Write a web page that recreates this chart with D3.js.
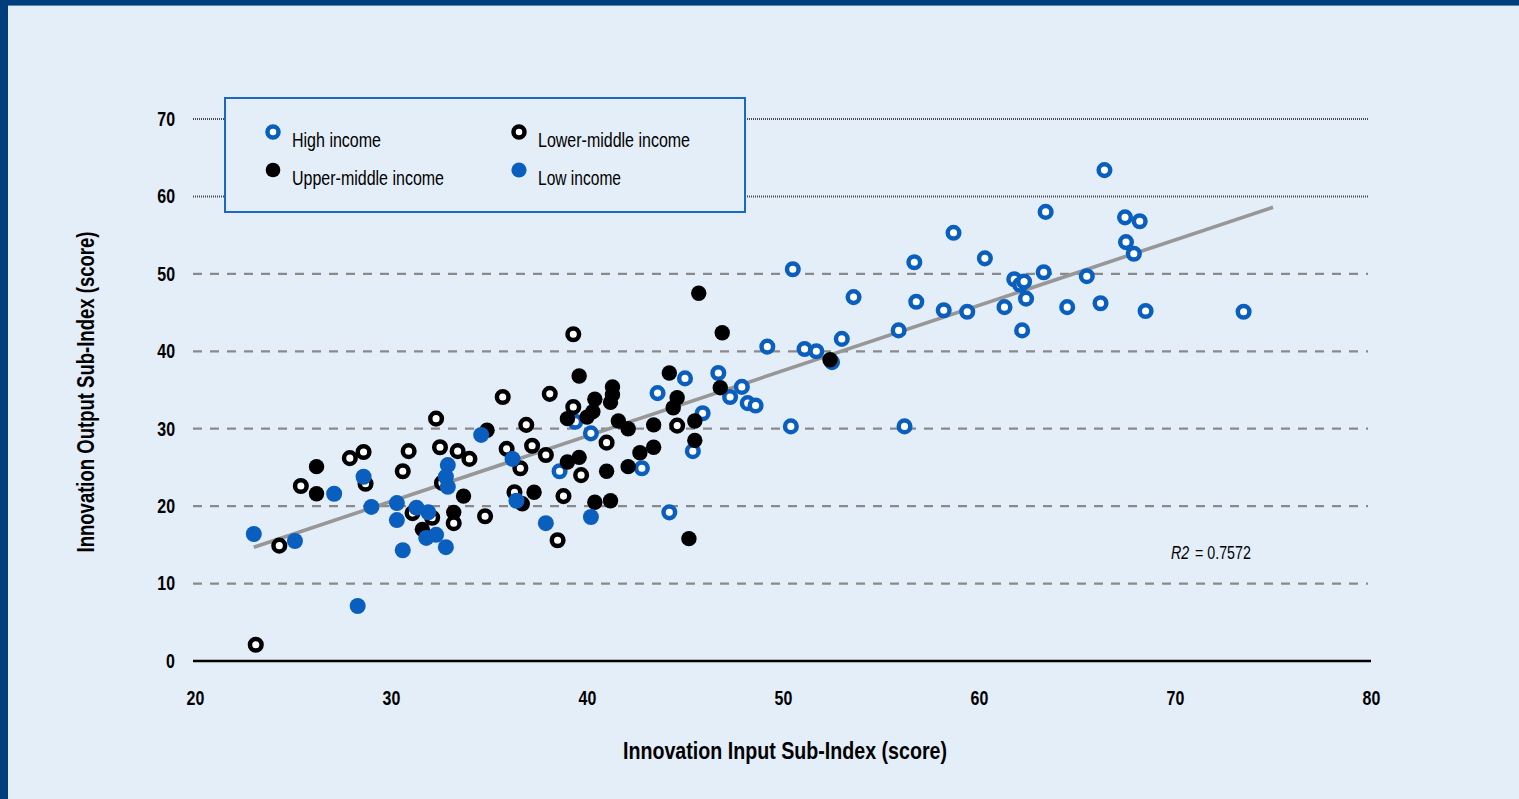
<!DOCTYPE html>
<html>
<head>
<meta charset="utf-8">
<script src="https://cdn.jsdelivr.net/npm/d3@7"></script>
<style>
  html, body { margin: 0; padding: 0; background: #e4eef8; }
  svg { display: block; }
  text { font-family: "Liberation Sans", Arial, sans-serif; }
</style>
</head>
<body>
<svg id="chart" width="1519" height="799"></svg>
<script>
// ---- Data ----
const highIncome = [
  [66.4,63.4],[63.4,58.0],[67.45,57.3],[68.2,56.8],[58.7,55.3],[67.5,54.1],[67.9,52.6],
  [56.7,51.5],[60.3,52.0],[50.5,50.6],[63.3,50.2],[65.5,49.7],[61.8,49.3],[62.1,48.6],
  [62.3,49.0],[62.4,46.8],[53.6,47.0],[56.8,46.4],[58.2,45.3],[59.4,45.1],[61.3,45.7],
  [64.5,45.7],[66.2,46.2],[68.5,45.2],[73.5,45.1],[62.2,42.7],[55.9,42.7],[53.0,41.6],
  [49.2,40.6],[51.1,40.3],[51.7,40.0],[52.5,38.6],[47.9,35.4],[47.3,34.1],[48.2,33.3],
  [48.6,33.0],[50.4,30.3],[56.2,30.3],[45.0,36.5],[43.6,34.6],[46.7,37.2],[45.9,32.0],
  [45.4,27.1],[44.2,19.2],[40.2,29.4],[39.4,30.9],[42.8,24.9],[38.6,24.5]
];
const upperMiddleIncome = [
  [45.7,47.5],[46.9,42.4],[39.6,36.8],[44.2,37.2],[46.8,35.3],[52.4,38.9],[44.6,34.0],
  [44.4,32.7],[45.5,31.0],[45.5,28.5],[45.2,15.8],[41.3,35.4],[41.3,34.4],[41.2,33.4],
  [40.4,33.8],[39.0,31.3],[40.3,32.2],[40.0,31.5],[41.6,31.0],[42.1,30.0],[43.4,30.5],
  [43.4,27.6],[42.7,26.9],[42.1,25.1],[41.0,24.5],[39.0,25.7],[39.6,26.3],[40.4,20.5],
  [41.2,20.7],[34.9,29.8],[36.7,20.3],[37.3,21.8],[33.7,21.3],[26.2,25.1],[26.2,21.6],
  [31.6,17.0],[33.2,19.2]
];
const lowerMiddleIncome = [
  [23.1,2.1],[24.3,14.9],[25.4,22.6],[27.9,26.2],[28.6,27.0],[28.7,22.9],[30.6,24.5],
  [30.9,27.1],[32.3,31.3],[32.5,27.6],[33.4,27.1],[34.0,26.1],[32.6,23.0],[31.1,19.1],
  [32.1,18.5],[33.2,17.8],[34.8,18.7],[35.7,34.1],[38.1,34.5],[36.9,30.5],[35.9,27.4],
  [36.6,24.9],[37.2,27.8],[37.9,26.6],[36.3,21.8],[38.5,15.6],[38.8,21.3],[39.3,42.2],
  [39.3,32.8],[41.0,28.2],[39.7,24.0],[44.6,30.4]
];
const lowIncome = [
  [23.0,16.4],[25.1,15.5],[27.1,21.6],[28.6,23.8],[29.0,19.9],[28.3,7.1],[30.3,20.4],
  [30.3,18.2],[30.6,14.3],[32.9,25.3],[32.8,23.8],[32.9,22.5],[31.3,19.8],[31.9,19.2],
  [31.8,15.9],[32.3,16.3],[32.8,14.7],[34.6,29.2],[36.2,26.1],[36.4,20.7],[37.9,17.8],
  [40.2,18.6]
];
const trendLine = [[23.0,14.7],[75.0,58.6]];
const xTicks = [20,30,40,50,60,70,80];
const yTicks = [0,10,20,30,40,50,60,70];
const legendLabels = ["High income","Lower-middle income","Upper-middle income","Low income"];
const r2Label = "R2";
const r2Value = "0.7572";
const xTitle = "Innovation Input Sub-Index (score)";
const yTitle = "Innovation Output Sub-Index (score)";

// ---- Styles ----
const BLUE = "#0a5fbe";
const BG = "#e4eef8";
const styles = {
  "High income":        {fill: "#ffffff", stroke: BLUE,   r: 5.8, sw: 4.5},
  "Lower-middle income":{fill: "#ffffff", stroke: "#000", r: 5.8, sw: 4.5},
  "Upper-middle income":{fill: "#000",    stroke: "none", r: 7.7, sw: 0},
  "Low income":         {fill: BLUE,      stroke: "none", r: 8.0, sw: 0}
};
const legendMarkerScale = 0.95;

// condense text horizontally (reference uses a condensed face)
function condense(sel, factor) {
  sel.each(function () {
    const w = this.getComputedTextLength();
    d3.select(this).attr("textLength", w * factor).attr("lengthAdjust", "spacingAndGlyphs");
  });
  return sel;
}
function fitTo(sel, width) {
  sel.attr("textLength", width).attr("lengthAdjust", "spacingAndGlyphs");
  return sel;
}

const svg = d3.select("#chart");
const W = 1519, H = 799;

// background & frame
svg.append("rect").attr("width", W).attr("height", H).attr("fill", BG);
svg.append("rect").attr("x", 0).attr("y", 0).attr("width", W).attr("height", 5).attr("fill", "#003d7c");
svg.append("rect").attr("x", 0).attr("y", 5).attr("width", W).attr("height", 1).attr("fill", "#5d86b3");
svg.append("rect").attr("x", 0).attr("y", 0).attr("width", 8).attr("height", H).attr("fill", "#003d7c");

const x = d3.scaleLinear().domain([20, 80]).range([195, 1371]);
const y = d3.scaleLinear().domain([0, 70]).range([661, 119]);

// gridlines
const grid = svg.append("g");
yTicks.filter(t => t > 0).forEach(t => {
  const dotted = t >= 60;
  grid.append("line")
    .attr("x1", 193).attr("x2", 1368)
    .attr("y1", y(t)).attr("y2", y(t))
    .attr("stroke", dotted ? "#4a4a4a" : "#8a8a8a")
    .attr("stroke-width", dotted ? 2 : 2.2)
    .attr("stroke-dasharray", dotted ? "1,1" : "9,8");
});

// axes
const yAxis = d3.axisLeft(y).tickValues(yTicks).tickSize(0).tickPadding(20);
const gy = svg.append("g").attr("transform", "translate(195,0)").call(yAxis);
gy.select(".domain").remove();
gy.selectAll("text").attr("font-size", 21).attr("font-weight", "bold").attr("fill", "#000")
  .attr("font-family", "'Liberation Sans', Arial, sans-serif").attr("dy", "0.3em");
condense(gy.selectAll("text"), 0.76);

const xAxis = d3.axisBottom(x).tickValues(xTicks).tickSize(0).tickPadding(29);
const gx = svg.append("g").attr("transform", "translate(0,661)").call(xAxis);
gx.select(".domain").remove();
gx.selectAll("text").attr("font-size", 21).attr("font-weight", "bold").attr("fill", "#000")
  .attr("font-family", "'Liberation Sans', Arial, sans-serif");
condense(gx.selectAll("text"), 0.76);

svg.append("line")
  .attr("x1", 193).attr("x2", x(80)).attr("y1", y(0)).attr("y2", y(0))
  .attr("stroke", "#000").attr("stroke-width", 2.4);

// trend line
svg.append("line")
  .attr("x1", x(trendLine[0][0])).attr("y1", y(trendLine[0][1]))
  .attr("x2", x(trendLine[1][0])).attr("y2", y(trendLine[1][1]))
  .attr("stroke", "#979797").attr("stroke-width", 3.6);

// points (draw order: high, upper-middle, lower-middle, low)
function drawSeries(data, key) {
  const s = styles[key];
  svg.append("g").selectAll("circle").data(data).join("circle")
    .attr("cx", d => x(d[0])).attr("cy", d => y(d[1]))
    .attr("r", s.r).attr("fill", s.fill)
    .attr("stroke", s.stroke).attr("stroke-width", s.sw);
}
drawSeries(highIncome, "High income");
drawSeries(upperMiddleIncome, "Upper-middle income");
drawSeries(lowerMiddleIncome, "Lower-middle income");
drawSeries(lowIncome, "Low income");

// legend
const lg = svg.append("g");
lg.append("rect").attr("x", 225).attr("y", 98).attr("width", 520).attr("height", 114)
  .attr("fill", BG).attr("stroke", "#1a68c4").attr("stroke-width", 2);
const legendPos = [[273,132],[519,132],[273,170],[519,170]];
const legendWidths = [89, 152, 152, 83];
legendLabels.forEach((lab, i) => {
  const s = styles[lab];
  const [lx, ly] = legendPos[i];
  lg.append("circle").attr("cx", lx).attr("cy", ly).attr("r", s.r * legendMarkerScale)
    .attr("fill", s.fill).attr("stroke", s.stroke).attr("stroke-width", s.sw);
  const t = lg.append("text").attr("x", lx + 19).attr("y", ly + 15)
    .attr("font-size", 20).attr("fill", "#000")
    .text(lab);
  fitTo(t, legendWidths[i]);
});

// R2 label: one condensed group holding two text runs
const r2g = svg.append("g").attr("transform", "translate(1171,559) scale(0.75,1)");
r2g.append("text").attr("x", 0).attr("y", 0).attr("font-size", 19)
  .attr("font-style", "italic").attr("fill", "#000").text(r2Label);
r2g.append("text").attr("x", 32).attr("y", 0).attr("font-size", 19)
  .attr("fill", "#000").text("=  " + r2Value);

// axis titles
const xt = svg.append("text").attr("x", 785).attr("y", 759).attr("text-anchor", "middle")
  .attr("font-size", 24).attr("font-weight", "bold").attr("fill", "#000").text(xTitle);
fitTo(xt, 324);
const yt = svg.append("text").attr("transform", "translate(94,392) rotate(-90)").attr("text-anchor", "middle")
  .attr("font-size", 24).attr("font-weight", "bold").attr("fill", "#000").text(yTitle);
fitTo(yt, 321);
</script>
</body>
</html>
